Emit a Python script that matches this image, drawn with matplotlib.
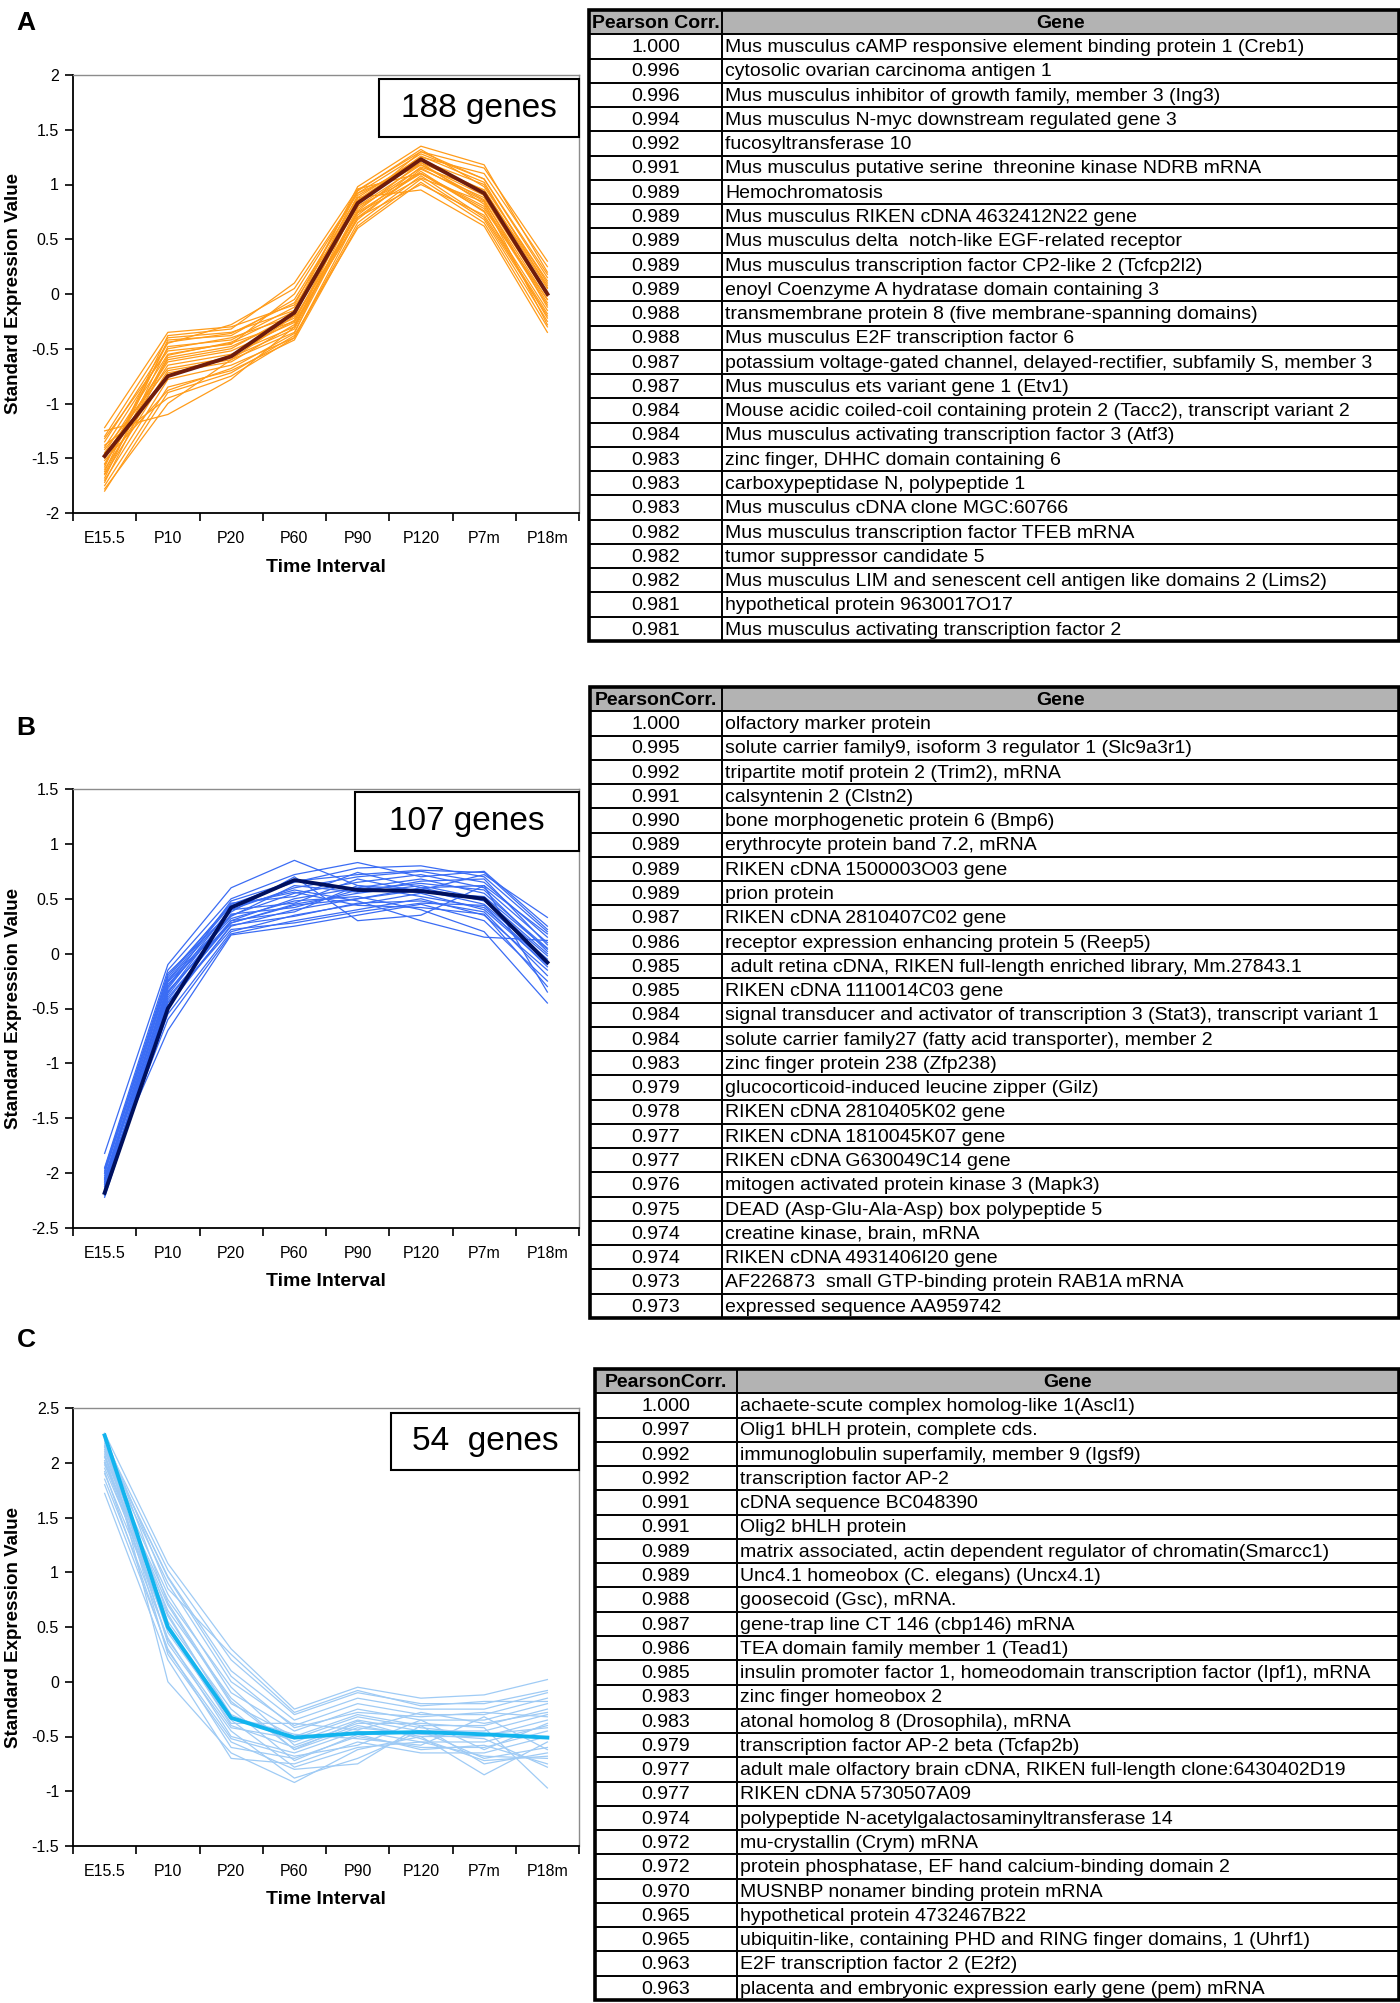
import matplotlib
matplotlib.use('Agg')
import matplotlib.pyplot as plt
from matplotlib.patches import Rectangle
from matplotlib.ticker import FixedLocator, NullFormatter

# ---------------- data ----------------
time_points = ['E15.5', 'P10', 'P20', 'P60', 'P90', 'P120', 'P7m', 'P18m']

a_ticks = [-2, -1.5, -1, -0.5, 0, 0.5, 1, 1.5, 2]
b_ticks = [-2.5, -2, -1.5, -1, -0.5, 0, 0.5, 1, 1.5]
c_ticks = [-1.5, -1, -0.5, 0, 0.5, 1, 1.5, 2, 2.5]

a_mean = [-1.48, -0.75, -0.57, -0.17, 0.83, 1.23, 0.92, 0.00]
a_genes = [
    [-1.22, -0.35, -0.30, -0.10, 0.95, 1.30, 1.15, 0.30],
    [-1.30, -0.40, -0.35, -0.15, 0.98, 1.35, 1.18, 0.20],
    [-1.35, -0.45, -0.28, 0.05, 0.92, 1.28, 1.05, 0.15],
    [-1.40, -0.50, -0.40, -0.20, 0.90, 1.22, 1.00, 0.10],
    [-1.45, -0.55, -0.45, -0.25, 0.85, 1.20, 0.95, 0.05],
    [-1.50, -0.60, -0.50, -0.18, 0.80, 1.18, 0.90, 0.00],
    [-1.55, -0.65, -0.55, -0.30, 0.78, 1.15, 0.85, -0.05],
    [-1.60, -0.70, -0.60, -0.35, 0.75, 1.10, 0.80, -0.10],
    [-1.65, -0.72, -0.62, -0.28, 0.70, 1.12, 0.75, -0.15],
    [-1.70, -0.78, -0.65, -0.40, 0.65, 1.08, 0.70, -0.20],
    [-1.75, -0.85, -0.70, -0.42, 0.62, 1.05, 0.68, -0.25],
    [-1.80, -0.90, -0.72, -0.38, 0.60, 1.02, 0.65, -0.30],
    [-1.25, -1.10, -0.78, -0.30, 0.88, 0.95, 0.62, -0.35],
    [-1.58, -0.38, -0.32, 0.10, 0.96, 1.10, 0.78, -0.05],
    [-1.62, -0.42, -0.38, -0.05, 0.88, 1.25, 1.10, 0.25],
    [-1.68, -0.48, -0.42, -0.12, 0.82, 1.30, 1.05, 0.18],
    [-1.72, -0.58, -0.48, -0.22, 0.72, 1.16, 0.95, 0.08],
    [-1.48, -0.62, -0.52, -0.26, 0.68, 1.14, 0.88, -0.02],
    [-1.42, -0.68, -0.58, -0.32, 0.76, 1.20, 0.82, -0.08],
    [-1.52, -0.88, -0.68, -0.36, 0.86, 1.24, 0.92, 0.02],
    [-1.38, -0.95, -0.75, -0.40, 0.70, 1.00, 0.72, -0.18],
    [-1.78, -1.00, -0.60, -0.20, 0.94, 1.32, 0.98, 0.12],
    [-1.32, -0.52, -0.46, 0.00, 0.92, 1.18, 0.86, -0.12],
    [-1.56, -0.44, -0.36, -0.08, 0.84, 1.26, 1.02, 0.06],
    [-1.64, -0.56, -0.44, -0.16, 0.80, 1.10, 0.76, -0.22],
    [-1.46, -0.74, -0.56, -0.24, 0.74, 1.06, 0.84, -0.28],
]

b_mean = [-2.18, -0.50, 0.42, 0.67, 0.58, 0.57, 0.50, -0.08]
b_genes = [
    [-1.82, -0.10, 0.60, 0.85, 0.62, 0.58, 0.72, 0.33],
    [-1.95, -0.15, 0.50, 0.72, 0.83, 0.70, 0.75, 0.25],
    [-2.00, -0.20, 0.45, 0.65, 0.78, 0.80, 0.70, 0.20],
    [-2.05, -0.25, 0.40, 0.60, 0.70, 0.75, 0.65, 0.15],
    [-2.10, -0.30, 0.35, 0.55, 0.65, 0.72, 0.60, 0.10],
    [-2.15, -0.35, 0.30, 0.50, 0.60, 0.68, 0.55, 0.05],
    [-2.20, -0.40, 0.28, 0.45, 0.55, 0.62, 0.50, 0.00],
    [-2.22, -0.45, 0.25, 0.40, 0.50, 0.58, 0.45, -0.05],
    [-2.12, -0.55, 0.20, 0.35, 0.45, 0.55, 0.40, -0.10],
    [-2.08, -0.60, 0.18, 0.30, 0.40, 0.50, 0.35, -0.15],
    [-2.02, -0.70, 0.17, 0.25, 0.35, 0.45, 0.30, -0.25],
    [-1.98, -0.18, 0.38, 0.70, 0.30, 0.35, 0.62, -0.35],
    [-2.18, -0.28, 0.32, 0.48, 0.52, 0.40, 0.20, -0.45],
    [-2.06, -0.32, 0.42, 0.58, 0.48, 0.30, 0.15, 0.12],
    [-2.14, -0.38, 0.36, 0.42, 0.58, 0.64, 0.58, 0.02],
    [-1.96, -0.22, 0.46, 0.52, 0.74, 0.60, 0.48, -0.02],
    [-2.16, -0.42, 0.30, 0.38, 0.62, 0.52, 0.42, -0.08],
    [-2.04, -0.26, 0.34, 0.62, 0.56, 0.66, 0.68, 0.08],
    [-2.10, -0.48, 0.26, 0.34, 0.46, 0.48, 0.38, -0.20],
    [-2.20, -0.36, 0.40, 0.46, 0.68, 0.56, 0.52, 0.04],
    [-2.00, -0.24, 0.44, 0.56, 0.44, 0.42, 0.36, -0.30],
    [-2.08, -0.34, 0.28, 0.44, 0.50, 0.60, 0.62, 0.18],
    [-2.12, -0.44, 0.22, 0.28, 0.38, 0.46, 0.44, -0.12],
    [-2.06, -0.30, 0.48, 0.66, 0.72, 0.76, 0.74, 0.22],
]

c_mean = [2.25, 0.50, -0.33, -0.51, -0.47, -0.46, -0.48, -0.51]
c_genes = [
    [2.27, 1.08, 0.30, -0.25, -0.05, -0.15, -0.12, 0.02],
    [2.20, 1.02, 0.20, -0.30, -0.10, -0.20, -0.20, -0.08],
    [2.15, 0.96, 0.10, -0.35, -0.15, -0.25, -0.25, -0.10],
    [2.10, 0.90, 0.00, -0.40, -0.20, -0.30, -0.30, -0.15],
    [2.05, 0.80, -0.10, -0.45, -0.25, -0.35, -0.35, -0.20],
    [2.00, 0.70, -0.20, -0.50, -0.30, -0.40, -0.40, -0.25],
    [1.95, 0.60, -0.30, -0.55, -0.35, -0.45, -0.45, -0.30],
    [1.90, 0.50, -0.40, -0.60, -0.40, -0.50, -0.50, -0.35],
    [1.85, 0.40, -0.50, -0.65, -0.45, -0.55, -0.55, -0.40],
    [1.80, 0.30, -0.60, -0.70, -0.50, -0.60, -0.60, -0.45],
    [1.72, 0.20, -0.70, -0.75, -0.55, -0.65, -0.65, -0.50],
    [2.25, 0.00, -0.65, -0.92, -0.62, -0.50, -0.85, -0.55],
    [2.22, 0.35, -0.45, -0.88, -0.70, -0.45, -0.70, -0.60],
    [2.18, 0.25, -0.55, -0.80, -0.75, -0.40, -0.75, -0.65],
    [2.12, 0.45, -0.35, -0.78, -0.60, -0.55, -0.68, -0.70],
    [2.08, 0.55, -0.25, -0.72, -0.48, -0.62, -0.58, -0.75],
    [2.02, 0.65, -0.15, -0.62, -0.42, -0.48, -0.52, -0.78],
    [1.98, 0.75, -0.05, -0.58, -0.38, -0.38, -0.42, -0.97],
    [2.24, 0.85, 0.25, -0.28, -0.08, -0.22, -0.18, -0.18],
    [2.16, 0.95, 0.05, -0.42, -0.28, -0.32, -0.28, -0.32],
    [2.06, 0.38, -0.42, -0.52, -0.32, -0.42, -0.48, -0.42],
    [1.92, 0.28, -0.52, -0.68, -0.58, -0.35, -0.62, -0.38],
    [2.14, 0.62, -0.32, -0.48, -0.52, -0.58, -0.32, -0.62],
    [2.00, 0.48, -0.38, -0.38, -0.44, -0.28, -0.38, -0.28],
    [2.26, 0.72, -0.18, -0.62, -0.36, -0.52, -0.72, -0.68],
]

a_corr = ['1.000', '0.996', '0.996', '0.994', '0.992', '0.991', '0.989', '0.989', '0.989',
          '0.989', '0.989', '0.988', '0.988', '0.987', '0.987', '0.984', '0.984', '0.983',
          '0.983', '0.983', '0.982', '0.982', '0.982', '0.981', '0.981']
a_gene_names = [
    'Mus musculus cAMP responsive element binding protein 1 (Creb1)',
    'cytosolic ovarian carcinoma antigen 1',
    'Mus musculus inhibitor of growth family, member 3 (Ing3)',
    'Mus musculus N-myc downstream regulated gene 3',
    'fucosyltransferase 10',
    'Mus musculus putative serine  threonine kinase NDRB mRNA',
    'Hemochromatosis',
    'Mus musculus RIKEN cDNA 4632412N22 gene',
    'Mus musculus delta  notch-like EGF-related receptor',
    'Mus musculus transcription factor CP2-like 2 (Tcfcp2l2)',
    'enoyl Coenzyme A hydratase domain containing 3',
    'transmembrane protein 8 (five membrane-spanning domains)',
    'Mus musculus E2F transcription factor 6',
    'potassium voltage-gated channel, delayed-rectifier, subfamily S, member 3',
    'Mus musculus ets variant gene 1 (Etv1)',
    'Mouse acidic coiled-coil containing protein 2 (Tacc2), transcript variant 2',
    'Mus musculus activating transcription factor 3 (Atf3)',
    'zinc finger, DHHC domain containing 6',
    'carboxypeptidase N, polypeptide 1',
    'Mus musculus cDNA clone MGC:60766',
    'Mus musculus transcription factor TFEB mRNA',
    'tumor suppressor candidate 5',
    'Mus musculus LIM and senescent cell antigen like domains 2 (Lims2)',
    'hypothetical protein 9630017O17',
    'Mus musculus activating transcription factor 2',
]

b_corr = ['1.000', '0.995', '0.992', '0.991', '0.990', '0.989', '0.989', '0.989', '0.987',
          '0.986', '0.985', '0.985', '0.984', '0.984', '0.983', '0.979', '0.978', '0.977',
          '0.977', '0.976', '0.975', '0.974', '0.974', '0.973', '0.973']
b_gene_names = [
    'olfactory marker protein',
    'solute carrier family9, isoform 3 regulator 1 (Slc9a3r1)',
    'tripartite motif protein 2 (Trim2), mRNA',
    'calsyntenin 2 (Clstn2)',
    'bone morphogenetic protein 6 (Bmp6)',
    'erythrocyte protein band 7.2, mRNA',
    'RIKEN cDNA 1500003O03 gene',
    'prion protein',
    'RIKEN cDNA 2810407C02 gene',
    'receptor expression enhancing protein 5 (Reep5)',
    ' adult retina cDNA, RIKEN full-length enriched library, Mm.27843.1',
    'RIKEN cDNA 1110014C03 gene',
    'signal transducer and activator of transcription 3 (Stat3), transcript variant 1',
    'solute carrier family27 (fatty acid transporter), member 2',
    'zinc finger protein 238 (Zfp238)',
    'glucocorticoid-induced leucine zipper (Gilz)',
    'RIKEN cDNA 2810405K02 gene',
    'RIKEN cDNA 1810045K07 gene',
    'RIKEN cDNA G630049C14 gene',
    'mitogen activated protein kinase 3 (Mapk3)',
    'DEAD (Asp-Glu-Ala-Asp) box polypeptide 5',
    'creatine kinase, brain, mRNA',
    'RIKEN cDNA 4931406I20 gene',
    'AF226873  small GTP-binding protein RAB1A mRNA',
    'expressed sequence AA959742',
]

c_corr = ['1.000', '0.997', '0.992', '0.992', '0.991', '0.991', '0.989', '0.989', '0.988',
          '0.987', '0.986', '0.985', '0.983', '0.983', '0.979', '0.977', '0.977', '0.974',
          '0.972', '0.972', '0.970', '0.965', '0.965', '0.963', '0.963']
c_gene_names = [
    'achaete-scute complex homolog-like 1(Ascl1)',
    'Olig1 bHLH protein, complete cds.',
    'immunoglobulin superfamily, member 9 (Igsf9)',
    'transcription factor AP-2',
    'cDNA sequence BC048390',
    'Olig2 bHLH protein',
    'matrix associated, actin dependent regulator of chromatin(Smarcc1)',
    'Unc4.1 homeobox (C. elegans) (Uncx4.1)',
    'goosecoid (Gsc), mRNA.',
    'gene-trap line CT 146 (cbp146) mRNA',
    'TEA domain family member 1 (Tead1)',
    'insulin promoter factor 1, homeodomain transcription factor (Ipf1), mRNA',
    'zinc finger homeobox 2',
    'atonal homolog 8 (Drosophila), mRNA',
    'transcription factor AP-2 beta (Tcfap2b)',
    'adult male olfactory brain cDNA, RIKEN full-length clone:6430402D19',
    'RIKEN cDNA 5730507A09',
    'polypeptide N-acetylgalactosaminyltransferase 14',
    'mu-crystallin (Crym) mRNA',
    'protein phosphatase, EF hand calcium-binding domain 2',
    'MUSNBP nonamer binding protein mRNA',
    'hypothetical protein 4732467B22',
    'ubiquitin-like, containing PHD and RING finger domains, 1 (Uhrf1)',
    'E2F transcription factor 2 (E2f2)',
    'placenta and embryonic expression early gene (pem) mRNA',
]

# ---------------- layout ----------------
W, H = 1400, 2003
fig = plt.figure(figsize=(W / 100, H / 100), dpi=100)
SANS = ['Liberation Sans', 'DejaVu Sans']
NARROW = ['Liberation Sans Narrow', 'Liberation Sans', 'DejaVu Sans']


def fax(l, t, r, b):
    return fig.add_axes([l / W, 1 - b / H, (r - l) / W, (b - t) / H])


def fpt(x, y):
    return x / W, 1 - y / H


def chart(box, ticks, genes, mean, thin_c, mean_c, count_text, cbox, letter, letter_y):
    l, t, r, b = box
    ax = fax(l, t, r, b)
    x = list(range(len(time_points)))
    for g in genes:
        ax.plot(x, g, color=thin_c, lw=0.9, zorder=2)
    ax.plot(x, mean, color=mean_c, lw=2.8, zorder=3)
    ax.set_xlim(-0.5, len(time_points) - 0.5)
    ax.set_ylim(ticks[0], ticks[-1])
    ax.yaxis.set_major_locator(FixedLocator(ticks))
    ax.set_yticklabels([('%g' % v) for v in ticks], family=SANS, fontsize=11.5)
    ax.xaxis.set_major_locator(FixedLocator([i - 0.5 for i in range(len(time_points) + 1)]))
    ax.xaxis.set_major_formatter(NullFormatter())
    ax.xaxis.set_minor_locator(FixedLocator(x))
    ax.set_xticklabels(time_points, minor=True, family=SANS, fontsize=11.5)
    ax.tick_params(axis='x', which='minor', length=0, pad=13)
    ax.tick_params(axis='x', which='major', length=6, width=1.2, direction='out')
    ax.tick_params(axis='y', length=6, width=1.2, direction='out', pad=4)
    for s in ('left', 'bottom'):
        ax.spines[s].set_color('black')
        ax.spines[s].set_linewidth(1.3)
    for s in ('top', 'right'):
        ax.spines[s].set_color('#8c8c8c')
        ax.spines[s].set_linewidth(1.0)
    # gene count box
    bx0, by0, bx1, by1 = cbox
    ax.add_patch(Rectangle(((bx0 - l) / (r - l), 1 - (by1 - t) / (b - t)),
                           (bx1 - bx0) / (r - l), (by1 - by0) / (b - t),
                           transform=ax.transAxes, fc='white', ec='black', lw=1.5,
                           zorder=5, clip_on=False))
    ax.text(((bx0 + bx1) / 2 - l) / (r - l), 1 - ((by0 + by1) / 2 - t) / (b - t),
            count_text, transform=ax.transAxes, ha='center', va='center',
            fontsize=24, family=SANS, zorder=6)
    # axis labels
    fig.text(*fpt(14, (t + b) / 2), 'Standard Expression Value', rotation=90,
             ha='center', va='center', fontsize=13.5, fontweight='bold', family=SANS)
    fig.text(*fpt((l + r) / 2, b + 54), 'Time Interval', ha='center', va='center',
             fontsize=14, fontweight='bold', family=SANS)
    fig.text(*fpt(26, letter_y), letter, ha='center', va='center',
             fontsize=19, fontweight='bold', family=SANS)
    return ax


def table(box, split, header, corr, names, fs=14):
    l, t, r, b = box
    ax = fax(l, t, r, b)
    w = r - l
    n = len(corr) + 1
    ax.set_xlim(0, w)
    ax.set_ylim(n, 0)
    ax.axis('off')
    ax.add_patch(Rectangle((0, 0), w, 1, fc='#b3b3b3', ec='none'))
    ax.hlines(range(1, n), 0, w, color='black', lw=1.4)
    ax.vlines([split - l], 0, n, color='black', lw=1.4)
    ax.add_patch(Rectangle((0, 0), w, n, fill=False, ec='black', lw=2.6, clip_on=False))
    sx = split - l
    ax.text(sx / 2, 0.55, header[0], ha='center', va='center', fontsize=fs,
            fontweight='bold', family=NARROW)
    ax.text((sx + w) / 2, 0.55, header[1], ha='center', va='center', fontsize=fs,
            fontweight='bold', family=NARROW)
    for i, (c, g) in enumerate(zip(corr, names)):
        ax.text(sx / 2, i + 1.55, c, ha='center', va='center', fontsize=fs, family=NARROW)
        ax.text(sx + 3, i + 1.55, g, ha='left', va='center', fontsize=fs, family=NARROW)
    return ax


chart((73, 75, 579, 513), a_ticks, a_genes, a_mean, '#ff9c1a', '#6e1c0c',
      '188 genes', (379, 79, 579, 137), 'A', 23)
chart((73, 789, 579, 1228), b_ticks, b_genes, b_mean, '#3a6cf4', '#00105e',
      '107 genes', (355, 792, 579, 851), 'B', 728)
chart((73, 1408, 579, 1846), c_ticks, c_genes, c_mean, '#9fcbf5', '#12b4ee',
      '54  genes', (391, 1413, 579, 1470), 'C', 1340)

table((589, 10, 1399, 641), 722, ('Pearson Corr.', 'Gene'), a_corr, a_gene_names)
table((590, 687, 1399, 1318), 722, ('PearsonCorr.', 'Gene'), b_corr, b_gene_names)
table((595, 1369, 1399, 2000), 737, ('PearsonCorr.', 'Gene'), c_corr, c_gene_names)

fig.savefig('out.png', dpi=100, facecolor='white')
